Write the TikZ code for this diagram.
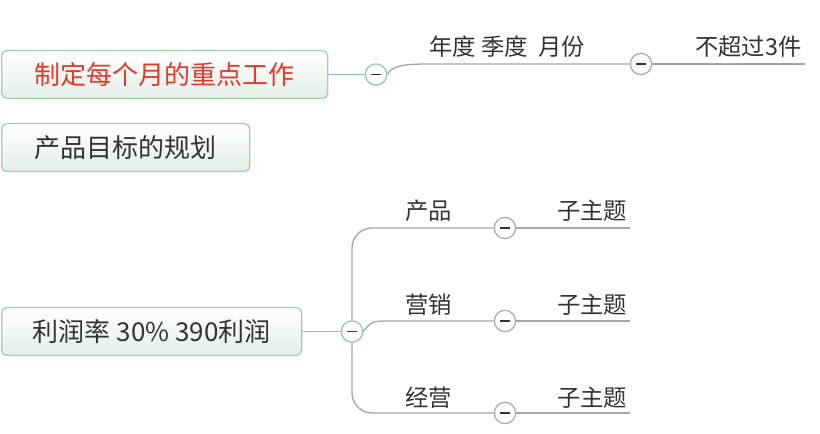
\documentclass[tikz,border=0pt]{standalone}
\usepackage{fontspec}
\setmainfont{Noto Sans CJK SC}
\definecolor{txt}{HTML}{333333}
\definecolor{hot}{HTML}{E5392C}
\definecolor{topicline}{HTML}{9FD0B2}
\definecolor{topicfill}{HTML}{E3EEE7}
\definecolor{linkline}{HTML}{8CC6A2}
\definecolor{branchline}{HTML}{A6A6A6}
\begin{document}
\begin{tikzpicture}[x=0.75pt,y=-0.75pt]
  \tikzstyle{every node}=[inner sep=0pt]
  \tikzstyle{topic}=[draw=topicline,line width=1pt,rounded corners=4pt,top color=white,bottom color=topicfill,minimum height=36pt,anchor=west,text=txt,font=\fontsize{19.5}{21}\selectfont]
  \tikzstyle{label}=[anchor=base west,text=txt,font=\fontsize{17.5}{19}\selectfont]
  \tikzstyle{fold}=[circle,draw=branchline,line width=0.9pt,fill=white,minimum size=16pt,
    path picture={\draw[txt,line width=1.3pt] ([xshift=-3.5pt]path picture bounding box.center) -- ([xshift=3.5pt]path picture bounding box.center);}]
  \tikzstyle{link}=[draw=linkline,line width=1pt]
  \tikzstyle{branch}=[draw=branchline,line width=1pt]
  \useasboundingbox (0,0) rectangle (820,434);

  % topics
  \node[topic,minimum width=244.5pt,text=hot] (plan) at (1,74.5) {制定每个月的重点工作};
  \node[topic,minimum width=186pt] (goal) at (1,147.5) {产品目标的规划};
  \node[topic,minimum width=225pt] (profit) at (1,331.5) {利润率 30\% 390利润};

  % fold buttons
  \node[fold,draw=linkline] (planfold) at (376,74.5) {};
  \node[fold] (yearfold) at (641,64) {};
  \node[fold,draw=linkline] (profitfold) at (352,331.5) {};
  \node[fold] (prodfold) at (505,228) {};
  \node[fold] (salefold) at (505,321) {};
  \node[fold] (runfold) at (505,413) {};

  % line ends
  \coordinate (yearend) at (805,64);
  \coordinate (prodend) at (630,228);
  \coordinate (saleend) at (630,321);
  \coordinate (runend) at (630,413);

  % labels
  \node[label] (year) at (429,55.5) {年度 季度 \ 月份};
  \node[label] (limit) at (695,55.5) {不超过3件};
  \node[label] (prod) at (405,220) {产品};
  \node[label] (sale) at (405,313.5) {营销};
  \node[label] (run) at (405,406.5) {经营};
  \node[label] (prodsub) at (557,220) {子主题};
  \node[label] (salesub) at (557,313.5) {子主题};
  \node[label] (runsub) at (557,406.5) {子主题};

  % connectors
  \draw[link] (plan.east) -- (planfold.west);
  \draw[branch] (planfold.east) .. controls (392,66) and (402,64) .. (429,64) -- (yearfold.west);
  \draw[branch] (yearfold.east) -- (yearend);

  \draw[link] (profit.east) -- (profitfold.west);
  \draw[branch,rounded corners=15pt] (profitfold.north) |- (prodfold.west);
  \draw[branch] (profitfold.east) .. controls (372,321) .. (392,321) -- (salefold.west);
  \draw[branch,rounded corners=15pt] (profitfold.south) |- (runfold.west);
  \draw[branch] (prodfold.east) -- (prodend);
  \draw[branch] (salefold.east) -- (saleend);
  \draw[branch] (runfold.east) -- (runend);
\end{tikzpicture}
\end{document}
